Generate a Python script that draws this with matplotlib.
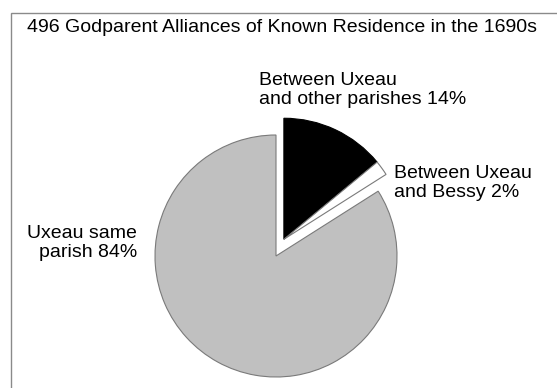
import numpy as np
import matplotlib
matplotlib.use('Agg')
import matplotlib.pyplot as plt
from matplotlib.patches import Rectangle

plt.rcParams['font.family'] = ['Liberation Sans', 'DejaVu Sans']

title    = '496 Godparent Alliances of Known Residence in the 1690s'
labels   = ['Between Uxeau\nand other parishes', 'Between Uxeau\nand Bessy', 'Uxeau same\nparish']
shares   = [14, 2, 84]
colors   = ['#000000', '#ffffff', '#c0c0c0']
explode  = [0.153, 0.153, 0]

W, H = 557, 388
fig = plt.figure(figsize=(W/100, H/100), dpi=100)
fig.patch.set_facecolor('white')

# pie centre and radius in pixels
cx, cy, R = 276, 256, 121
ax = fig.add_axes([0, 0, 1, 1])
wedges, _ = ax.pie(shares, colors=colors, explode=explode, startangle=90,
                   counterclock=False, radius=1,
                   wedgeprops=dict(edgecolor='#7a7a7a', linewidth=0.8))
wedges[0].set_edgecolor('#000000')
# the thin slice is pulled out together with the black one
wedges[1].set_center(wedges[0].center)
ax.set_aspect('auto')
ax.set_xlim(-cx/R, (W - cx)/R)
ax.set_ylim(-(H - cy)/R, cy/R)
ax.axis('off')

# frame: only the top and left edges fall inside the picture
fig.patches.append(Rectangle((11/W, -0.1), 1.2, 1 - 12.5/H + 0.1, transform=fig.transFigure,
                             fill=False, edgecolor='#8a8a8a', linewidth=1.0))

def px(x, y):
    return x/W, 1 - y/H

fs = 14
ls = 1.12
# multi-line labels are placed by the baseline of their last line
fig.text(*px(282, 32), title, ha='center', va='baseline', fontsize=fs)
fig.text(*px(259, 104), f'{labels[0]} {shares[0]}%', ha='left', va='baseline',
         fontsize=fs, linespacing=ls)
fig.text(*px(394, 197), f'{labels[1]} {shares[1]}%', ha='left', va='baseline',
         fontsize=fs, linespacing=ls)
fig.text(*px(137, 257), f'{labels[2]} {shares[2]}%', ha='right', va='baseline',
         fontsize=fs, linespacing=ls, multialignment='right')

fig.savefig('out.png', dpi=100)
